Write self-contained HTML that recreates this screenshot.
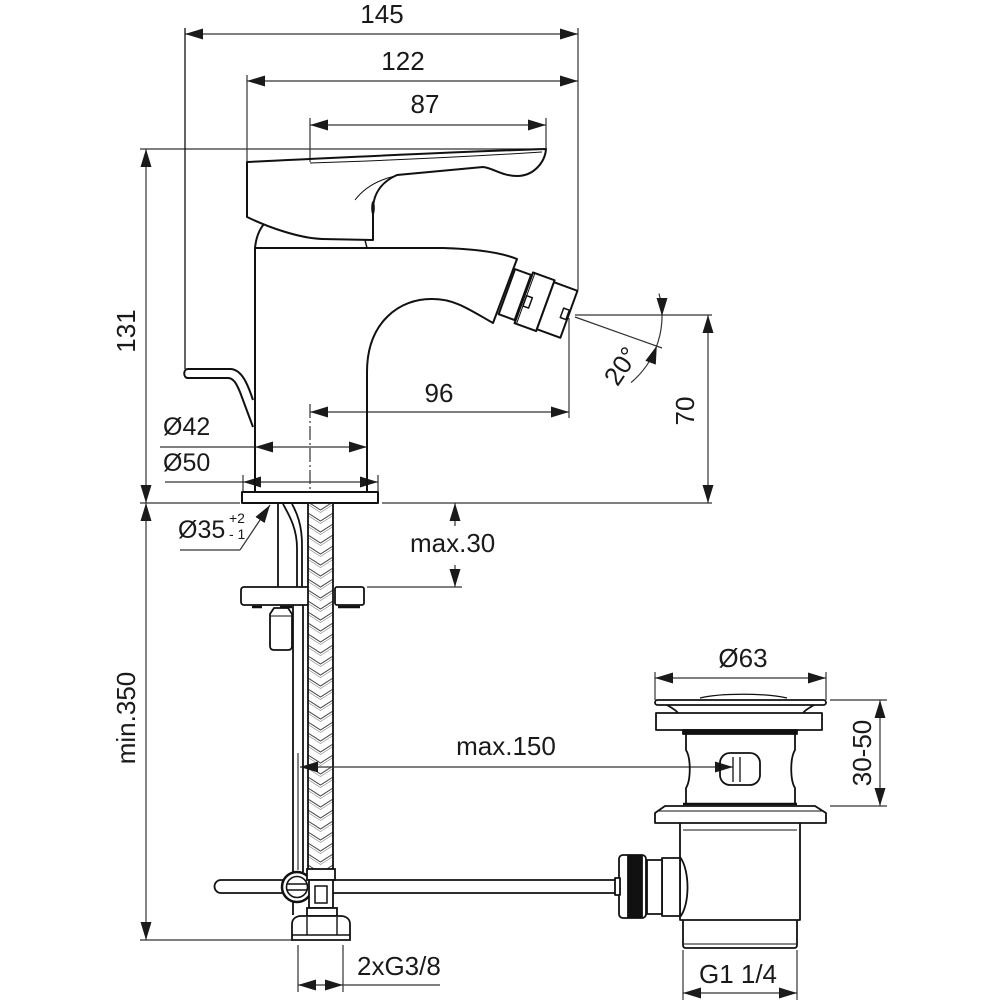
<!DOCTYPE html>
<html><head><meta charset="utf-8"><style>
html,body{margin:0;padding:0;background:#fff}
svg{display:block}
text{font-family:"Liberation Sans",Arial,sans-serif;fill:#1a1a1a}
</style></head><body>
<svg width="1000" height="1000" viewBox="0 0 1000 1000" xmlns="http://www.w3.org/2000/svg">
<defs>
<marker id="a" viewBox="0 0 18 11" refX="18" refY="5.5" markerWidth="18" markerHeight="11" markerUnits="userSpaceOnUse" orient="auto-start-reverse"><path d="M0,0L18,5.5L0,11z" fill="#1a1a1a"/></marker>
<pattern id="braid" patternUnits="userSpaceOnUse" x="308" y="0" width="25" height="11">
<rect width="25" height="11" fill="#fff"/>
<path d="M0,-4 L12.5,4 L25,-4 M0,7 L12.5,15 L25,7" fill="none" stroke="#444" stroke-width="1"/>
<path d="M0,-1.5 L12.5,6.5 L25,-1.5 M0,9.5 L12.5,17.5 L25,9.5" fill="none" stroke="#888" stroke-width="0.6"/>
</pattern>
</defs>

<!-- ================= DIMENSIONS ================= -->
<g stroke="#333" stroke-width="1.2" fill="none">
  <line x1="185" y1="34" x2="578" y2="34" marker-start="url(#a)" marker-end="url(#a)"/>
  <line x1="247" y1="81" x2="578" y2="81" marker-start="url(#a)" marker-end="url(#a)"/>
  <line x1="310" y1="125" x2="546" y2="125" marker-start="url(#a)" marker-end="url(#a)"/>
  <line x1="578" y1="28" x2="578" y2="290"/>
  <line x1="546" y1="118" x2="546" y2="150"/>
  <line x1="310" y1="118" x2="310" y2="162"/>
  <line x1="247" y1="75" x2="247" y2="162"/>
  <line x1="140" y1="149" x2="546" y2="149"/>
  <line x1="146" y1="149" x2="146" y2="503" marker-start="url(#a)" marker-end="url(#a)"/>
  <line x1="146" y1="503" x2="146" y2="940" marker-start="url(#a)" marker-end="url(#a)"/>
  <line x1="140" y1="503" x2="240" y2="503"/>
  <line x1="382" y1="503" x2="712" y2="503"/>
  <line x1="140" y1="940" x2="292" y2="940"/>
  <line x1="160" y1="447" x2="367" y2="447" marker-end="url(#a)"/>
  <line x1="165" y1="482" x2="378" y2="482" marker-end="url(#a)"/>
  <line x1="243" y1="475" x2="243" y2="491"/>
  <line x1="378" y1="475" x2="378" y2="491"/>
  <line x1="310" y1="412" x2="569" y2="412" marker-start="url(#a)" marker-end="url(#a)"/>
  <line x1="569" y1="318" x2="569" y2="418"/>
  <line x1="310" y1="404" x2="310" y2="502" stroke-dasharray="14 3 2 3"/>
  <line x1="708" y1="315" x2="708" y2="503" marker-start="url(#a)" marker-end="url(#a)"/>
  <line x1="575" y1="315" x2="712" y2="315"/>
  <line x1="575" y1="317" x2="662" y2="348"/>
  <path d="M659,293.5 A87,87 0 0 1 631,382.6"/>
  <line x1="455" y1="503" x2="455" y2="526" marker-start="url(#a)"/>
  <line x1="455" y1="565" x2="455" y2="587" marker-end="url(#a)"/>
  <line x1="367" y1="587" x2="462" y2="587"/>
  <polyline points="180,550 240,550"/>
  <line x1="240" y1="550" x2="270" y2="505" marker-end="url(#a)"/>
  <line x1="655" y1="678" x2="826" y2="678" marker-start="url(#a)" marker-end="url(#a)"/>
  <line x1="655" y1="672" x2="655" y2="700"/>
  <line x1="826" y1="672" x2="826" y2="700"/>
  <line x1="880" y1="700" x2="880" y2="806" marker-start="url(#a)" marker-end="url(#a)"/>
  <line x1="830" y1="700" x2="887" y2="700"/>
  <line x1="830" y1="806" x2="887" y2="806"/>
  <line x1="298" y1="945" x2="298" y2="992"/>
  <line x1="343" y1="945" x2="343" y2="992"/>
  <line x1="298" y1="985" x2="440" y2="985" marker-start="url(#a)"/>
  <line x1="683" y1="950" x2="683" y2="1000"/>
  <line x1="797" y1="950" x2="797" y2="1000"/>
  <line x1="683" y1="993" x2="797" y2="993" marker-start="url(#a)" marker-end="url(#a)"/>
</g>
<g fill="#1a1a1a" stroke="none">
  <polygon points="255,447 273,441.5 273,452.5"/>
  <polygon points="243,482 261,476.5 261,487.5"/>
  <polygon points="343,985 325,979.5 325,990.5"/>
  <polygon points="662,316 656.5,298 667.5,298"/>
  <polygon points="656.8,345.8 655.8,364.6 645.4,360.8"/>
</g>

<!-- ================= FAUCET ================= -->
<g stroke="#111" stroke-width="2" fill="none" stroke-linejoin="round">
  <line x1="185" y1="28" x2="185" y2="369" stroke-width="1.3"/>
  <path d="M253,400 C248,385 242,369 230,369 L188,369 C183,369 183,378 188,378 L228,378 C234,378 237,385 240,392 L253,427"/>
  <path d="M247,162 L247,217 C268,227 298,238 322,239 L373,240 L373,207 C374,194 381,182 397,175 L483,167 C493,168 502,176 517,176 C534,176 545,162 546,149 C450,152 330,158 247,162 Z"/>
  <path d="M310,163 C400,160 480,156 542,152" stroke-width="1"/>
  <path d="M355,200 C364,188 378,180 395,176" stroke-width="1"/>
  <path d="M255,248 C256,238 259,230 264,224"/>
  <line x1="365" y1="240" x2="367" y2="248" stroke-width="1.5"/>
  <path d="M255,492 L255,248 L443,248 C475,249 500,252 517,259 L493,323 C470,310 455,299 433,299 C400,298 367,322 367,372 L367,492"/>
  <g transform="translate(505,291) rotate(20)" fill="#fff">
    <rect x="2" y="-24" width="17" height="48"/>
    <rect x="20" y="-27" width="23" height="54"/>
    <line x1="22" y1="-27" x2="22" y2="27" stroke-width="1"/>
    <rect x="43" y="-25" width="25" height="50"/>
    <rect x="22" y="-3" width="6" height="11" stroke-width="1.5"/>
    <rect x="61" y="-4" width="6" height="10" stroke-width="1.5"/>
  </g>
  <rect x="242" y="492" width="136" height="11" fill="#fff"/>
</g>
<ellipse cx="373" cy="208" rx="1.8" ry="7" fill="#111"/>

<!-- ================= UNDER DECK ================= -->
<g stroke="#111" stroke-width="1.8" fill="none">
  <line x1="278" y1="504" x2="278" y2="587"/>
  <path d="M283,504 C289,515 297,528 297,548 L297,587"/>
  <path d="M292,504 C297,513 302,525 302,545 L302,587"/>
  <line x1="293" y1="605" x2="293" y2="915"/>
  <line x1="303" y1="605" x2="303" y2="872"/>
  <rect x="241" y="587" width="72" height="18" rx="3" fill="#fff"/>
  <rect x="335" y="587" width="29" height="18" rx="2" fill="#fff"/>
  <line x1="252" y1="607" x2="262" y2="607" stroke-width="2.5"/>
  <line x1="280" y1="607" x2="292" y2="607" stroke-width="2.5"/>
  <line x1="338" y1="607" x2="360" y2="607" stroke-width="2.5"/>
  <path d="M274,608 L288,608 L292,614 L292,646 Q292,650 288,650 L274,650 Q270,650 270,646 L270,614 Z" fill="#fff"/>
  <line x1="271" y1="616" x2="291" y2="616" stroke-width="1"/>
  <rect x="308" y="503" width="25" height="367" fill="url(#braid)"/>
  <path d="M617,880 L221,880 A6.5,6.5 0 0 0 221,893 L617,893" fill="#fff"/>
  <circle cx="297" cy="887" r="15" fill="#fff" stroke-width="2.5"/>
  <circle cx="297" cy="887" r="10.5" fill="#fff" stroke-width="1.6"/>
  <line x1="287" y1="884" x2="307" y2="884" stroke-width="1.5"/>
  <line x1="287" y1="890" x2="307" y2="890" stroke-width="1.5"/>
  <rect x="307" y="869" width="28" height="11" fill="#fff"/>
  <rect x="309" y="880" width="24" height="28" fill="#fff"/>
  <rect x="315" y="886" width="12" height="17" stroke-width="1.5"/>
  <rect x="307" y="908" width="30" height="8" fill="#fff"/>
  <path d="M292,940 L292,924 C292,919 296,916 301,916 L341,916 C346,916 350,919 350,924 L350,940 Z" fill="#fff"/>
  <line x1="307" y1="917" x2="307" y2="935" stroke-width="1.4"/>
  <line x1="337" y1="917" x2="337" y2="935" stroke-width="1.4"/>
  <line x1="292" y1="935" x2="350" y2="935" stroke-width="1.4"/>
</g>

<!-- max.150 on top of hose -->
<g stroke="#333" stroke-width="1.2" fill="none">
  <line x1="300" y1="767" x2="733" y2="767" marker-start="url(#a)" marker-end="url(#a)"/>
  <line x1="298" y1="753" x2="298" y2="870"/>
</g>

<!-- ================= DRAIN ================= -->
<g stroke="#111" stroke-width="1.8" fill="none" stroke-linejoin="round">
  <path d="M700,698 C720,693 765,693 787,698" stroke-width="1.3"/>
  <rect x="655" y="700" width="171" height="5" rx="2.5" fill="#fff"/>
  <path d="M667,705 C672,708 676,710 678,713"/>
  <path d="M814,705 C809,708 805,710 803,713"/>
  <rect x="656" y="713" width="166" height="17" fill="#fff"/>
  <rect x="683" y="730" width="114" height="4" fill="#111"/>
  <path d="M686,734 L686,750 C691,758 691,780 686,788 L686,803"/>
  <path d="M795,734 L795,750 C790,758 790,780 795,788 L795,803"/>
  <line x1="683" y1="804" x2="797" y2="804" stroke-width="2.5"/>
  <rect x="720" y="753" width="40" height="32" rx="10"/>
  <line x1="733" y1="757" x2="733" y2="782" stroke-width="1.3"/>
  <line x1="740" y1="757" x2="740" y2="782" stroke-width="1.3"/>
  <path d="M665,806 L815,806 L826,813 L826,823 L655,823 L655,813 Z" fill="#fff"/>
  <line x1="658" y1="811" x2="823" y2="811" stroke-width="1"/>
  <path d="M680,823 L680,920 L800,920 L800,823"/>
  <line x1="683" y1="830" x2="797" y2="830" stroke-width="1"/>
  <path d="M683,920 L683,945 Q683,948 686,948 L794,948 Q797,948 797,945 L797,920"/>
  <line x1="684" y1="944" x2="796" y2="944" stroke-width="1"/>
  <path d="M680,857 C690,870 690,905 680,917"/>
  <rect x="662" y="858" width="18" height="58" fill="#fff"/>
  <rect x="647" y="860" width="15" height="54" fill="#fff"/>
  <rect x="619" y="855" width="27" height="63" rx="4" fill="#fff"/>
  <rect x="628" y="856" width="14" height="61" fill="#111"/>
  <rect x="615" y="878" width="5" height="17" fill="#fff"/>
</g>

<!-- ================= TEXT ================= -->
<g font-size="26">
  <text x="382" y="23" text-anchor="middle">145</text>
  <text x="403" y="70" text-anchor="middle">122</text>
  <text x="425" y="113" text-anchor="middle">87</text>
  <text transform="translate(135,331) rotate(-90)" text-anchor="middle">131</text>
  <text transform="translate(135,718) rotate(-90)" text-anchor="middle">min.350</text>
  <text x="163" y="435" font-size="25">Ø42</text>
  <text x="163" y="471" font-size="25">Ø50</text>
  <text x="439" y="402" text-anchor="middle">96</text>
  <text transform="translate(694,411) rotate(-90)" text-anchor="middle">70</text>
  <text transform="translate(621,366) rotate(-56)" x="0" y="9" text-anchor="middle">20°</text>
  <text x="178" y="538" font-size="25">Ø35</text>
  <text x="229" y="523" font-size="14">+2</text>
  <text x="229" y="539" font-size="14">- 1</text>
  <text x="410" y="552">max.30</text>
  <text x="506" y="755" text-anchor="middle">max.150</text>
  <text x="743" y="667" text-anchor="middle">Ø63</text>
  <text transform="translate(871,753) rotate(-90)" text-anchor="middle">30-50</text>
  <text x="357" y="975">2xG3/8</text>
  <text x="738" y="983" text-anchor="middle">G1 1/4</text>
</g>
</svg>
</body></html>
